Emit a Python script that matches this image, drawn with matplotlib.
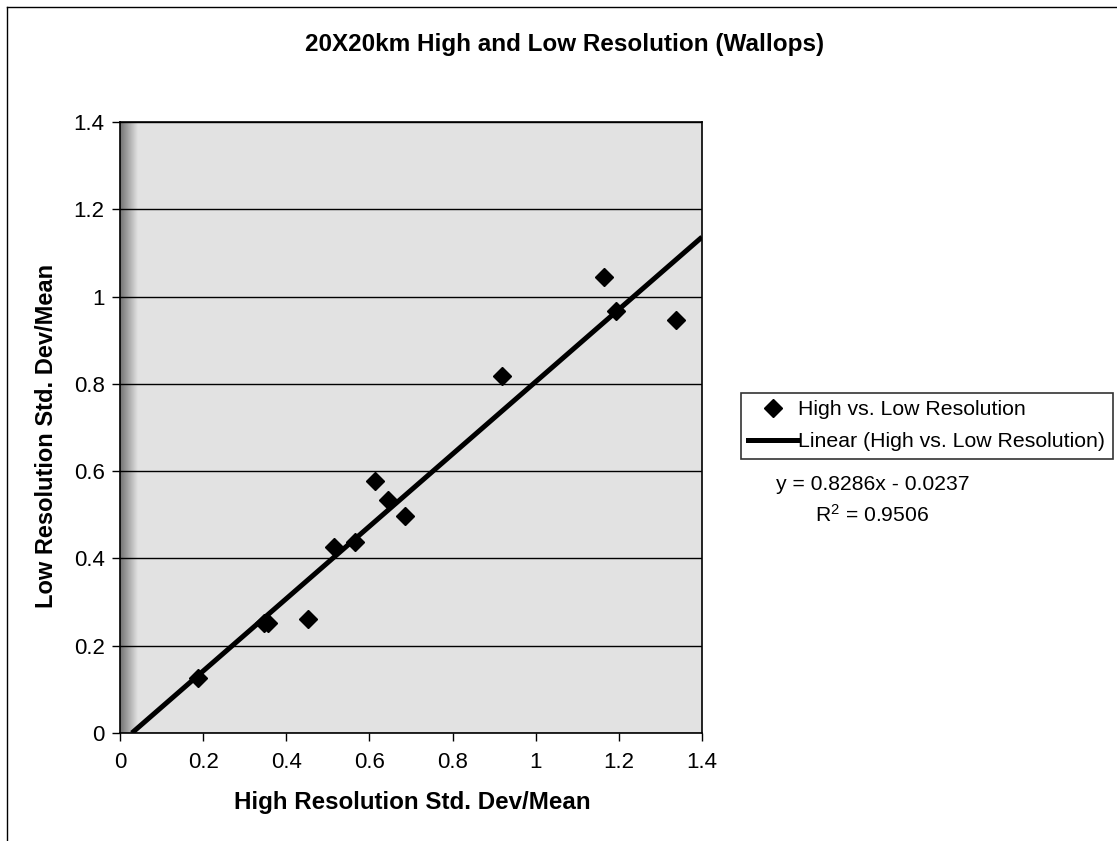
import numpy as np
import matplotlib
matplotlib.use("Agg")
import matplotlib.pyplot as plt
from matplotlib.lines import Line2D

plt.rcParams['font.family'] = ['Liberation Sans', 'DejaVu Sans']
plt.rcParams['mathtext.fontset'] = 'custom'
plt.rcParams['mathtext.rm'] = 'Liberation Sans'
plt.rcParams['mathtext.it'] = 'Liberation Sans'

# ---- data ----
high_res = [0.188, 0.346, 0.356, 0.452, 0.515, 0.566, 0.614, 0.645, 0.685, 0.919, 1.164, 1.193, 1.337]
low_res = [0.125, 0.252, 0.252, 0.262, 0.426, 0.438, 0.578, 0.533, 0.497, 0.817, 1.045, 0.968, 0.947]
slope = 0.8286
intercept = -0.0237
r_squared = 0.9506
x_ticks = [0, 0.2, 0.4, 0.6, 0.8, 1.0, 1.2, 1.4]
x_tick_labels = ['0', '0.2', '0.4', '0.6', '0.8', '1', '1.2', '1.4']
y_ticks = [0, 0.2, 0.4, 0.6, 0.8, 1.0, 1.2, 1.4]
y_tick_labels = ['0', '0.2', '0.4', '0.6', '0.8', '1', '1.2', '1.4']
title = '20X20km High and Low Resolution (Wallops)'
x_label = 'High Resolution Std. Dev/Mean'
y_label = 'Low Resolution Std. Dev/Mean'
series_name = 'High vs. Low Resolution'
trend_name = 'Linear (High vs. Low Resolution)'

W, H = 1117, 841
fig = plt.figure(figsize=(W / 100, H / 100), dpi=100)
fig.patch.set_facecolor('white')

ax = fig.add_axes([120 / W, 1 - 733 / H, (702 - 120) / W, (733 - 122) / H])
ax.set_facecolor('#e2e2e2')
ax.set_xlim(0, 1.4)
ax.set_ylim(0, 1.4)

# darker band at the left edge of the plot area
grad = np.linspace(0.45, 0.885, 64).reshape(1, -1)
ax.imshow(grad, cmap='gray', vmin=0, vmax=1, aspect='auto',
          extent=[0, 0.03, 0, 1], transform=ax.transAxes, zorder=0.5)

# horizontal gridlines
ax.yaxis.grid(True, color='black', linewidth=1.0)
ax.xaxis.grid(False)
ax.set_axisbelow(True)

# trendline
x_start = -intercept / slope
xs = np.array([x_start, 1.4])
ax.plot(xs, slope * xs + intercept, color='black', linewidth=3.6, zorder=3,
        solid_capstyle='butt')

# points
ax.plot(high_res, low_res, linestyle='none', marker='D', markersize=9,
        color='black', zorder=4)

ax.set_xticks(x_ticks)
ax.set_xticklabels(x_tick_labels)
ax.set_yticks(y_ticks)
ax.set_yticklabels(y_tick_labels)
ax.tick_params(axis='both', direction='out', length=6, width=1,
               labelsize=16, colors='black', pad=5)
ax.tick_params(axis='x', pad=8)
for s in ax.spines.values():
    s.set_color('black')
    s.set_linewidth(1.2)

fig.text(412 / W, 1 - 803 / H, x_label, ha='center', va='center',
         fontsize=17.4, fontweight='bold')
fig.text(47 / W, 1 - 436 / H, y_label, ha='center', va='center',
         rotation=90, fontsize=17, fontweight='bold')
fig.text(565 / W, 1 - 45 / H, title, ha='center', va='center',
         fontsize=17.5, fontweight='bold')

handles = [Line2D([], [], linestyle='none', marker='D', markersize=9, color='black'),
           Line2D([], [], color='black', linewidth=3.6)]
leg = fig.legend(handles, [series_name, trend_name], loc='upper left',
                 bbox_to_anchor=(741 / W, 1 - 393 / H), fontsize=15.3,
                 frameon=True, fancybox=False, handlelength=2.3,
                 handletextpad=0.05, borderpad=0.35, labelspacing=0.6,
                 borderaxespad=0)
leg.get_frame().set_edgecolor('black')
leg.get_frame().set_linewidth(1.2)

fig.text(776 / W, 1 - 484 / H, f'y = {slope:.4f}x - {abs(intercept):.4f}',
         ha='left', va='center', fontsize=15.2)
fig.text(815 / W, 1 - 515 / H, f'R$^{{2}}$ = {r_squared:.4f}',
         ha='left', va='center', fontsize=15.2)

# outer border (top and left)
fig.add_artist(Line2D([7 / W, 7 / W], [0, 1 - 7 / H], transform=fig.transFigure,
                      color='black', linewidth=1))
fig.add_artist(Line2D([7 / W, 1], [1 - 7 / H, 1 - 7 / H], transform=fig.transFigure,
                      color='black', linewidth=1))

fig.savefig('out.png', dpi=100)
